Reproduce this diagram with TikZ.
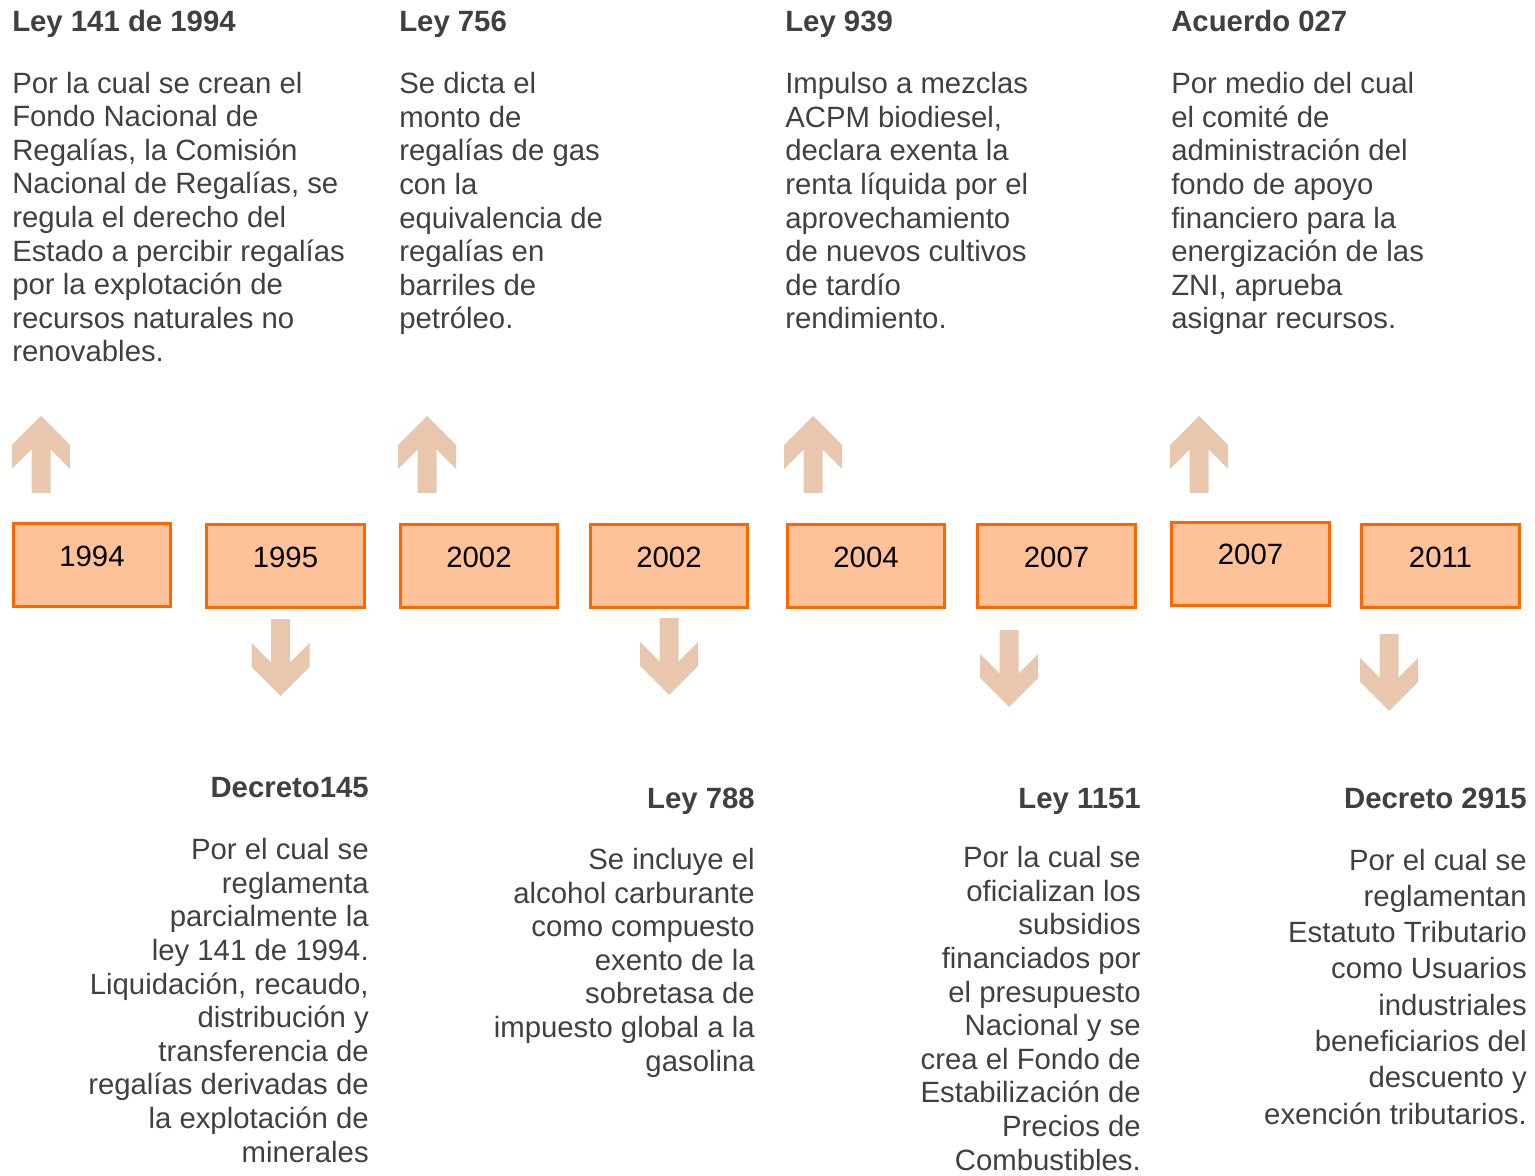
\documentclass[tikz,border=0pt]{standalone}
\usepackage{fontspec}
\setmainfont{Liberation Sans}
\usepackage{xcolor}
\usepackage{tikz}

\definecolor{textogris}{HTML}{404040}
\definecolor{cajafondo}{HTML}{FFC197}
\definecolor{cajaborde}{HTML}{FF6600}
\definecolor{flechacolor}{HTML}{E9C7AF}

\tikzset{
  anio/.style={draw=cajaborde, fill=cajafondo, line width=2.25pt, minimum width=118pt,
    text height=31.5pt, text depth=30pt, inner xsep=0pt, inner ysep=0pt,
    font=\fontsize{22}{25}\selectfont},
  titulo/.style={inner sep=0pt, text=textogris, font=\fontsize{22}{25}\selectfont\bfseries},
  cuerpo/.style={inner sep=0pt, text=textogris, font=\fontsize{22}{25.2}\selectfont},
  flecha/.pic={\fill[flechacolor] (0,0) -- (-29,29) -- (-29,53) -- (-9.5,33.5) -- (-9.5,77)
    -- (9.5,77) -- (9.5,33.5) -- (29,53) -- (29,29) -- cycle;}
}

\begin{document}
\begin{tikzpicture}[x=0.75pt,y=0.75pt,yscale=-1,xscale=1]
\useasboundingbox (0,0) rectangle (1535,1176);

% Boxes
\node[anio, anchor=base] (a1994) at (92,566) {1994};
\node[anio, anchor=base] (a1995) at (285.5,567) {1995};
\node[anio, anchor=base] (a2002a) at (479,567) {2002};
\node[anio, anchor=base] (a2002b) at (669,567) {2002};
\node[anio, anchor=base] (a2004) at (866,567) {2004};
\node[anio, anchor=base] (a2007a) at (1056.5,567) {2007};
\node[anio, anchor=base] (a2007b) at (1250.5,565) {2007};
\node[anio, anchor=base] (a2011) at (1440.5,567) {2011};

% Up arrows
\pic[yscale=-1] at (41,416) {flecha};
\pic[yscale=-1] at (427,416) {flecha};
\pic[yscale=-1] at (813,416) {flecha};
\pic[yscale=-1] at (1199,416) {flecha};
% Down arrows
\pic at (280.5,696) {flecha};
\pic at (669,695) {flecha};
\pic at (1009,707) {flecha};
\pic at (1389,711) {flecha};

% Top texts (base = last line)
\node[titulo, anchor=base west] (t1994) at (12,32) {Ley 141 de 1994};
\node[cuerpo, anchor=base west, align=left] (d1994) at (12,362) {Por la cual se crean el\\Fondo Nacional de\\Regalías, la Comisión\\Nacional de Regalías, se\\regula el derecho del\\Estado a percibir regalías\\por la explotación de\\recursos naturales no\\renovables.};
\node[titulo, anchor=base west] (t2002) at (399,32) {Ley 756};
\node[cuerpo, anchor=base west, align=left] (d2002) at (399,329) {Se dicta el\\monto de\\regalías de gas\\con la\\equivalencia de\\regalías en\\barriles de\\petróleo.};
\node[titulo, anchor=base west] (t2004) at (785,32) {Ley 939};
\node[cuerpo, anchor=base west, align=left] (d2004) at (785,329) {Impulso a mezclas\\ACPM biodiesel,\\declara exenta la\\renta líquida por el\\aprovechamiento\\de nuevos cultivos\\de tardío\\rendimiento.};
\node[titulo, anchor=base west] (t2007) at (1171,32) {Acuerdo 027};
\node[cuerpo, anchor=base west, align=left] (d2007) at (1171,329) {Por medio del cual\\el comité de\\administración del\\fondo de apoyo\\financiero para la\\energización de las\\ZNI, aprueba\\asignar recursos.};

% Bottom texts
\node[titulo, anchor=base east] (t1995) at (369,797) {Decreto145};
\node[cuerpo, anchor=base east, align=right] (d1995) at (369,1162) {Por el cual se\\reglamenta\\parcialmente la\\ley 141 de 1994.\\Liquidación, recaudo,\\distribución y\\transferencia de\\regalías derivadas de\\la explotación de\\minerales};
\node[titulo, anchor=base east] (t2002b) at (755,808) {Ley 788};
\node[cuerpo, anchor=base east, align=right] (d2002b) at (755,1071) {Se incluye el\\alcohol carburante\\como compuesto\\exento de la\\sobretasa de\\impuesto global a la\\gasolina};
\node[titulo, anchor=base east] (t2007b) at (1141,808) {Ley 1151};
\node[cuerpo, anchor=base east, align=right] (d2007b) at (1141,1170) {Por la cual se\\oficializan los\\subsidios\\financiados por\\el presupuesto\\Nacional y se\\crea el Fondo de\\Estabilización de\\Precios de\\Combustibles.};
\node[titulo, anchor=base east] (t2011) at (1527,808) {Decreto 2915};
\node[cuerpo, anchor=base east, align=right, font=\fontsize{22}{27.2}\selectfont] (d2011) at (1527,1124) {Por el cual se\\reglamentan\\Estatuto Tributario\\como Usuarios\\industriales\\beneficiarios del\\descuento y\\exención tributarios.};

\end{tikzpicture}
\end{document}
